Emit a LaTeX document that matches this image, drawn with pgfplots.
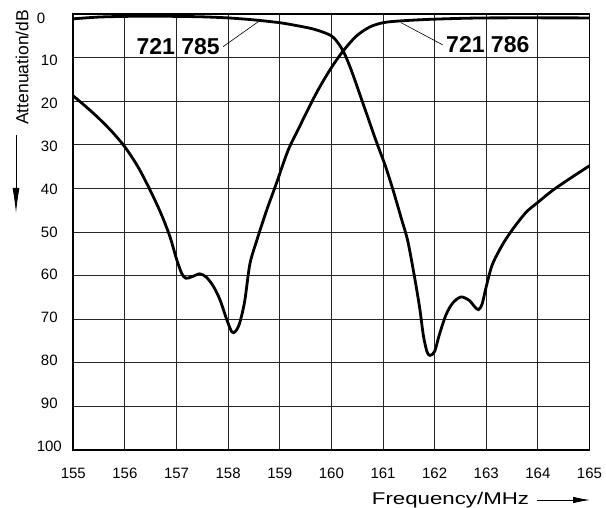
\documentclass[border=0pt]{standalone}
\usepackage{fontspec}
\setmainfont{Liberation Sans}
\usepackage{pgfplots}
\usepackage{pgfplotstable}
\pgfplotsset{compat=1.18}
\usetikzlibrary{arrows.meta}

% Filter 721 785: passband below 160 MHz, stopband above
\pgfplotstableread{
f a
155.00 1.1
155.50 0.7
156.00 0.55
156.50 0.5
157.00 0.55
157.50 0.65
158.00 0.9
158.50 1.35
159.00 2.0
159.30 2.6
159.60 3.3
159.80 4.0
159.95 4.7
160.05 5.5
160.15 7.0
160.25 9.0
160.35 11.8
160.45 15.0
160.55 18.4
160.65 21.8
160.75 25.2
160.85 28.6
160.95 31.8
161.05 35.0
161.19 40.2
161.35 46.7
161.48 52.1
161.61 60.3
161.71 67.4
161.78 73.6
161.85 77.4
161.91 78.3
162.00 77.4
162.09 73.6
162.22 69.0
162.35 66.3
162.51 64.9
162.67 65.7
162.78 67.2
162.85 67.8
162.92 66.5
163.00 62.5
163.12 57.4
163.32 52.8
163.51 49.4
163.77 45.5
164.00 43.2
164.28 40.5
164.60 37.9
165.00 34.8
}\filterA

% Filter 721 786: stopband below 160 MHz, passband above
\pgfplotstableread{
f a
155.00 18.8
155.25 21.3
155.50 24.0
155.75 27.0
156.00 30.5
156.25 35.0
156.48 40.2
156.70 45.8
156.87 51.0
157.00 56.2
157.10 59.5
157.18 60.6
157.29 60.3
157.45 59.6
157.58 60.4
157.71 62.4
157.84 65.5
157.97 70.0
158.07 72.9
158.14 72.8
158.22 71.0
158.32 65.9
158.42 57.4
158.55 52.1
158.74 45.2
158.93 39.0
159.16 31.3
159.38 25.9
159.64 19.7
159.80 16.2
160.00 12.3
160.22 8.6
160.48 5.1
160.74 3.0
161.00 2.0
161.32 1.6
161.96 1.2
163.00 0.9
165.00 0.9
}\filterB

\begin{document}
\begin{tikzpicture}
\useasboundingbox (-73.3pt,-58pt) rectangle (532.7pt,450pt);
\begin{axis}[
  at={(0pt,0pt)}, anchor=south west,
  scale only axis, width=516.2pt, height=436pt,
  xmin=155, xmax=165, ymin=0, ymax=100, y dir=reverse,
  xtick={155,156,...,165},
  ytick={0,10,...,100},
  yticklabels={0\hphantom{00},10,20,30,40,50,60,70,80,90,100},
  grid=major,
  major grid style={black!85, line width=0.9pt},
  axis line style={line width=1.6pt},
  major tick length=0pt,
  /pgf/number format/assume math mode=true,
  /pgf/number format/1000 sep={},
  ticklabel style={font=\fontsize{15}{17}\selectfont},
  xticklabel style={anchor=center, yshift=-23.5pt},
  yticklabel style={anchor=center, xshift=-24pt, yshift={(0.8*\ticknum-4)*1pt}},
]
\addplot[black, line width=2.8pt, smooth, tension=0.5] table[x=f, y=a] {\filterA};
\addplot[black, line width=2.8pt, smooth, tension=0.5] table[x=f, y=a] {\filterB};

\node[font=\bfseries\fontsize{23}{25}\selectfont, anchor=center] at (axis cs:157.03,7.5) {721 785};
\draw[line width=0.6pt] (axis cs:157.9,7.5) -- (axis cs:158.58,1.8);
\node[font=\bfseries\fontsize{23}{25}\selectfont, anchor=center] at (axis cs:163.03,7.1) {721 786};
\draw[line width=0.6pt] (axis cs:162.16,7.1) -- (axis cs:161.35,2.0);
\end{axis}

% axis titles with direction arrows
\node[rotate=90, anchor=base west, inner sep=0pt, font=\fontsize{17.5}{20}\selectfont] at (-45pt,325pt) {Attenuation/dB};
\draw[line width=0.8pt, -{Latex[length=25pt,width=7pt]}] (-57.3pt,315pt) -- (-57.3pt,237pt);
\node[anchor=base west, inner sep=0pt, font=\fontsize{17}{20}\selectfont] at (298.4pt,-55pt) {\scalebox{1.31}[1]{Frequency/MHz}};
\draw[line width=0.8pt, -{Latex[length=17pt,width=6.5pt]}] (463.4pt,-50pt) -- (516.7pt,-50pt);
\end{tikzpicture}
\end{document}
